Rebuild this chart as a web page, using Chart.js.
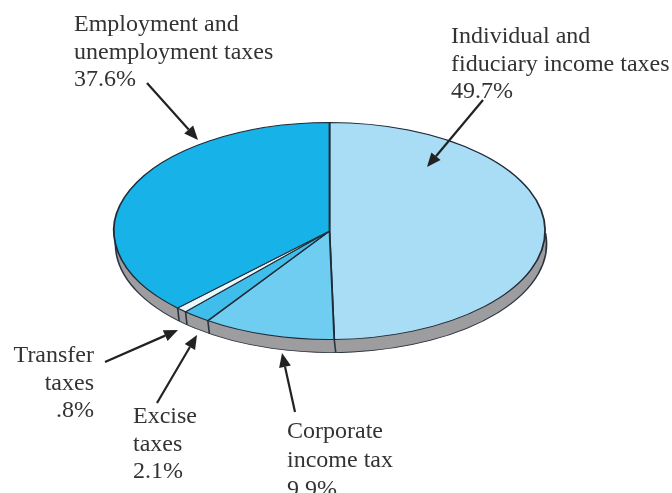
<!DOCTYPE html>
<html>
<head>
<meta charset="utf-8">
<script src="https://cdn.jsdelivr.net/npm/chart.js@4/dist/chart.umd.min.js"></script>
<style>
  html, body { margin: 0; padding: 0; background: #fff; }
  #wrap { position: relative; width: 672px; height: 493px; overflow: hidden; }
  #taxPie { position: absolute; left: 0; top: 0; }
  .lbl {
    position: absolute;
    font-family: "Liberation Serif", "Times New Roman", serif;
    font-size: 24px;
    line-height: 27.5px;
    color: #333;
    white-space: nowrap;
  }
</style>
</head>
<body>
<div id="wrap">
  <canvas id="taxPie" width="672" height="493"></canvas>
</div>
<script>
// slices go clockwise from 12 o'clock
const categories = [
    ['Individual and', 'fiduciary income taxes'],
    ['Corporate', 'income tax'],
    ['Excise', 'taxes'],
    ['Transfer', 'taxes'],
    ['Employment and', 'unemployment taxes']
];
const shares = [49.7, 9.9, 2.1, 0.8, 37.6];
const sliceColors = ['#a9ddf5', '#6fcdf1', '#3fbeec', '#eaf7fc', '#16b2e8'];

// where each caption sits and where its arrow runs (tail -> tip)
const captionBoxes = [
    { left: 451, top: 22 },
    { left: 287, top: 416, lh: 29 },
    { left: 133, top: 402 },
    { right: 578, top: 341, align: 'right' },
    { left: 74, top: 10 }
];
const arrows = [
    [483, 100, 427, 167],
    [295, 412, 282, 353],
    [157, 403, 197, 335],
    [105, 362, 178, 330],
    [147, 83, 198, 140]
];

const squash = 109 / 216.5;   // ellipse height / width
const depth = 13;             // how far the grey edge drops below the face, px
const shift = 1.5;            // slight sideways lean of the edge, px

function pctText(v) {
    return String(v).replace(/^0/, '') + '%';
}

const wrap = document.getElementById('wrap');
categories.forEach((lines, i) => {
    const box = captionBoxes[i];
    const div = document.createElement('div');
    div.className = 'lbl';
    if (box.left !== undefined) div.style.left = box.left + 'px';
    if (box.right !== undefined) div.style.right = box.right + 'px';
    div.style.top = box.top + 'px';
    if (box.lh) div.style.lineHeight = box.lh + 'px';
    div.style.textAlign = box.align || 'left';
    div.innerHTML = lines.concat(pctText(shares[i])).join('<br>');
    wrap.appendChild(div);
});

function drawArrow(ctx, x1, y1, x2, y2) {
    const ang = Math.atan2(y2 - y1, x2 - x1);
    const head = 14, half = 6;
    const bx = x2 - head * Math.cos(ang), by = y2 - head * Math.sin(ang);
    ctx.beginPath();
    ctx.moveTo(x1, y1);
    ctx.lineTo(bx, by);
    ctx.stroke();
    ctx.beginPath();
    ctx.moveTo(x2, y2);
    ctx.lineTo(bx + half * Math.sin(ang), by - half * Math.cos(ang));
    ctx.lineTo(bx - half * Math.sin(ang), by + half * Math.cos(ang));
    ctx.closePath();
    ctx.fill();
}

// flattens the pie into an ellipse and paints the grey edge under it
const tilt = {
    id: 'tilt',
    beforeDatasetsDraw(chart) {
        const arcs = chart.getDatasetMeta(0).data;
        const { x, y, outerRadius: r } = arcs[0];
        const ctx = chart.ctx;
        const dz = depth / squash;
        ctx.save();
        ctx.translate(x, y);
        ctx.scale(1, squash);
        ctx.translate(-x, -y);

        // a copy of the disc dropped below shows as the edge
        ctx.beginPath();
        ctx.arc(x + shift, y + dz, r, 0, 2 * Math.PI);
        ctx.fillStyle = '#9d9d9f';
        ctx.fill();
        ctx.strokeStyle = '#2a3440';
        ctx.lineWidth = 1.6;
        ctx.beginPath();
        ctx.arc(x + shift, y + dz, r, -0.1, Math.PI + 0.1);
        ctx.stroke();

        // slice edges carried down the side
        arcs.forEach(a => {
            const t = a.startAngle;
            if (Math.sin(t) > 0.02) {
                const px = x + r * Math.cos(t), py = y + r * Math.sin(t);
                ctx.beginPath();
                ctx.moveTo(px, py);
                ctx.lineTo(px + shift, py + dz);
                ctx.stroke();
            }
        });
    },
    afterDatasetsDraw(chart) {
        chart.ctx.restore();
    },
    afterDraw(chart) {
        const ctx = chart.ctx;
        ctx.save();
        ctx.strokeStyle = '#222';
        ctx.fillStyle = '#222';
        ctx.lineWidth = 2.2;
        arrows.forEach(a => drawArrow(ctx, a[0], a[1], a[2], a[3]));
        ctx.restore();
    }
};

new Chart(document.getElementById('taxPie'), {
    type: 'pie',
    data: {
        labels: categories.map(l => l.join(' ')),
        datasets: [{
            data: shares,
            backgroundColor: sliceColors,
            borderColor: '#1f2b36',
            borderWidth: 1.8,
            clip: false
        }]
    },
    options: {
        responsive: false,
        animation: false,
        events: [],
        layout: { padding: { left: 113, right: 126, top: 14.5, bottom: 45.5 } },
        plugins: {
            legend: { display: false },
            tooltip: { enabled: false }
        }
    },
    plugins: [tilt]
});
</script>
</body>
</html>
